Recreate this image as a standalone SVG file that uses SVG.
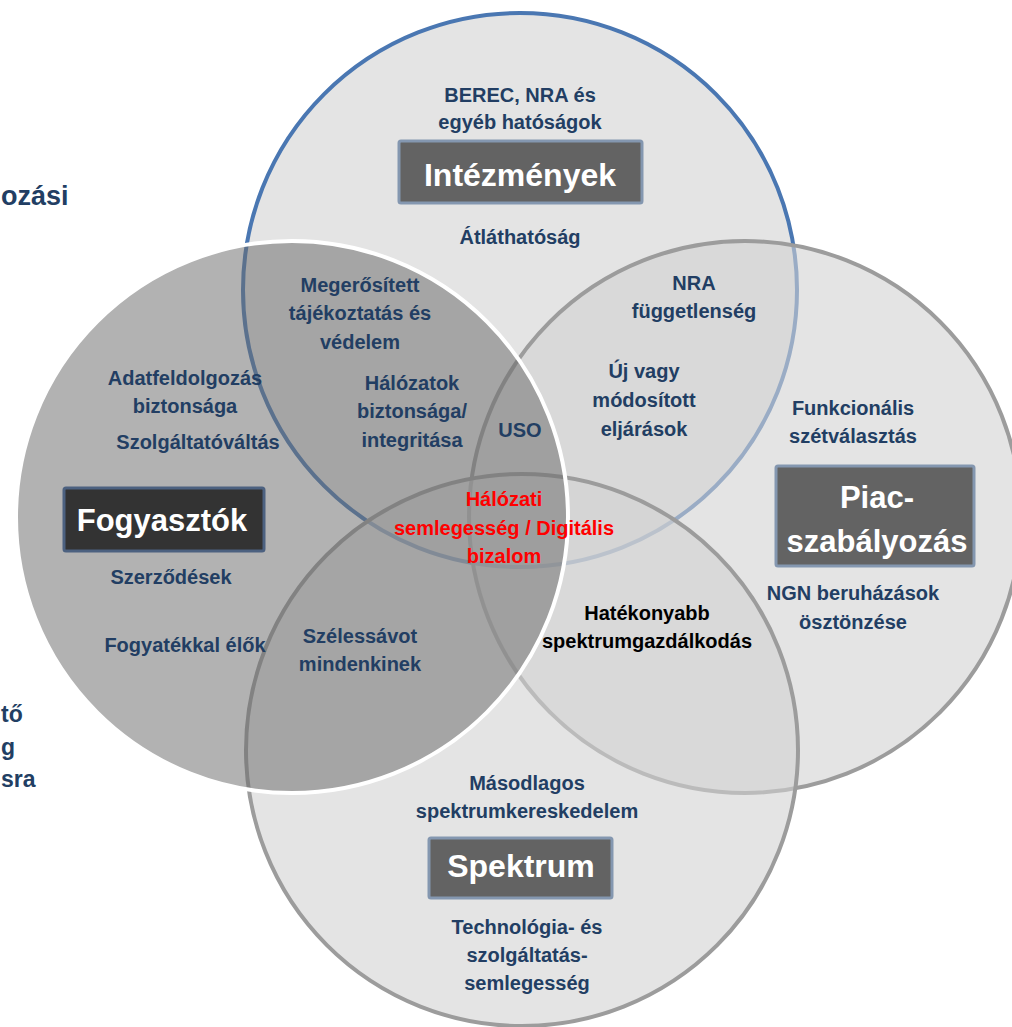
<svg xmlns="http://www.w3.org/2000/svg" width="1012" height="1027" viewBox="0 0 1012 1027">
<style>
.t{font-family:"Liberation Sans",Arial,sans-serif;font-weight:bold;font-size:20px;fill:#223E63;text-anchor:middle}
.red{fill:#FF0000}
.blk{fill:#000000}
.lbl{font-family:"Liberation Sans",Arial,sans-serif;font-weight:bold;fill:#FFFFFF;text-anchor:middle}
.light{fill:#D1D1D1;fill-opacity:0.593}
.boxA{fill:#636363;stroke:#8497B0;stroke-width:3}
.boxB{fill:#333333;stroke:#4C6180;stroke-width:3}
.edge{text-anchor:start;font-size:23px}
</style>
<rect width="1012" height="1027" fill="#FFFFFF"/>
<g id="edge-text">
<text class="t" x="1" y="205" style="text-anchor:start;font-size:27px">ozási</text>
<text class="t edge" x="1" y="722">tő</text>
<text class="t edge" x="1" y="755">g</text>
<text class="t edge" x="1" y="787">sra</text>
</g>
<g id="circles">
<circle id="c-intezmenyek" class="light" cx="520" cy="290" r="277" stroke="#4A77B2" stroke-width="4"/>
<circle id="c-piac" class="light" cx="745" cy="517" r="276" stroke="#9C9C9C" stroke-width="4"/>
<circle id="c-spektrum" class="light" cx="522" cy="750" r="276" stroke="#9C9C9C" stroke-width="4"/>
<circle id="c-fogyasztok" cx="292" cy="517" r="276" fill="#6B6B6B" fill-opacity="0.52" stroke="#FFFFFF" stroke-width="4"/>
</g>
<g id="connectors"></g>
<g id="node-intezmenyek">
<text class="t" x="520" y="102">BEREC, NRA és</text>
<text class="t" x="520" y="129">egyéb hatóságok</text>
<rect class="boxA" x="399" y="141" width="243" height="62" rx="2"/>
<text class="lbl" x="520" y="186" font-size="32">Intézmények</text>
<text class="t" x="520" y="244">Átláthatóság</text>
</g>
<g id="node-fogyasztok">
<text class="t" x="185" y="385">Adatfeldolgozás</text>
<text class="t" x="185" y="413">biztonsága</text>
<text class="t" x="198" y="449">Szolgáltatóváltás</text>
<rect class="boxB" x="64" y="488" width="200" height="63" rx="2"/>
<text class="lbl" x="162" y="531" font-size="31">Fogyasztók</text>
<text class="t" x="171" y="584">Szerződések</text>
<text class="t" x="185" y="652">Fogyatékkal élők</text>
</g>
<g id="node-piac">
<text class="t" x="853" y="415">Funkcionális</text>
<text class="t" x="853" y="443">szétválasztás</text>
<rect class="boxA" x="776" y="466" width="198" height="100" rx="2"/>
<text class="lbl" x="877" y="508" font-size="31">Piac-</text>
<text class="lbl" x="877" y="552" font-size="31">szabályozás</text>
<text class="t" x="853" y="600">NGN beruházások</text>
<text class="t" x="853" y="629">ösztönzése</text>
</g>
<g id="node-spektrum">
<text class="t" x="527" y="790">Másodlagos</text>
<text class="t" x="527" y="818">spektrumkereskedelem</text>
<rect class="boxA" x="429" y="838" width="183" height="60" rx="2"/>
<text class="lbl" x="521" y="877" font-size="32">Spektrum</text>
<text class="t" x="527" y="934">Technológia- és</text>
<text class="t" x="527" y="962">szolgáltatás-</text>
<text class="t" x="527" y="990">semlegesség</text>
</g>
<g id="overlaps">
<text class="t" x="360" y="292">Megerősített</text>
<text class="t" x="360" y="320">tájékoztatás és</text>
<text class="t" x="360" y="349">védelem</text>
<text class="t" x="412" y="390">Hálózatok</text>
<text class="t" x="412" y="418">biztonsága/</text>
<text class="t" x="412" y="447">integritása</text>
<text class="t" x="520" y="437">USO</text>
<text class="t" x="694" y="290">NRA</text>
<text class="t" x="694" y="318">függetlenség</text>
<text class="t" x="644" y="378">Új vagy</text>
<text class="t" x="644" y="407">módosított</text>
<text class="t" x="644" y="436">eljárások</text>
<text class="t red" x="504" y="506">Hálózati</text>
<text class="t red" x="504" y="535">semlegesség / Digitális</text>
<text class="t red" x="504" y="563">bizalom</text>
<text class="t" x="360" y="643">Szélessávot</text>
<text class="t" x="360" y="671">mindenkinek</text>
<text class="t blk" x="647" y="620">Hatékonyabb</text>
<text class="t blk" x="647" y="648">spektrumgazdálkodás</text>
</g>
</svg>
